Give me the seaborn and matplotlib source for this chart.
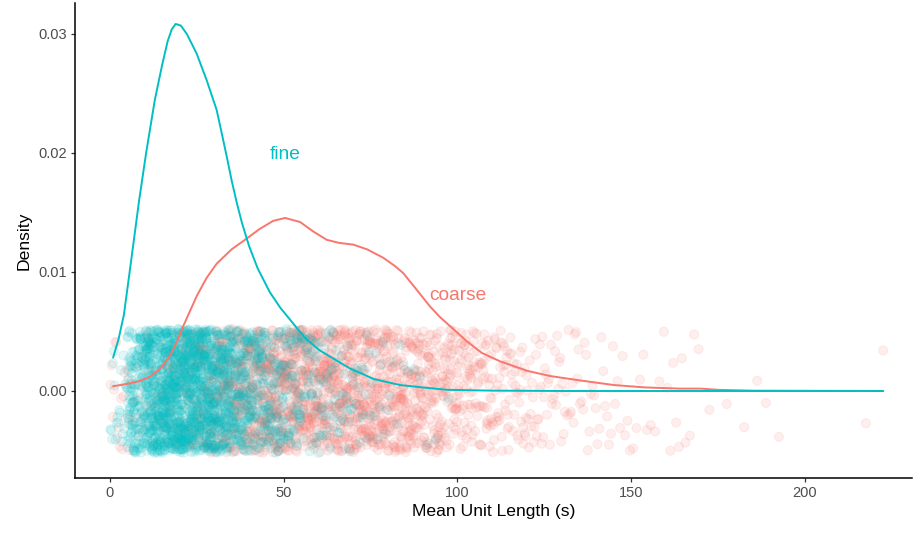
import numpy as np
import pandas as pd
import matplotlib
matplotlib.use('Agg')
import matplotlib.pyplot as plt
import seaborn as sns

# density curves (x in seconds, y density)
fine_x = [0.9, 2.5, 4.0, 6.2, 8.4, 10.4, 12.9, 14.9, 16.6, 17.8, 18.9, 20.4,
          22.1, 24.9, 27.8, 30.7, 32.2, 33.6, 35.0, 36.5, 38.0, 40.0, 42.5,
          46.0, 49.0, 51.8, 56.0, 60.4, 65.0, 69.0, 76.0, 83.5, 90.0, 97.0,
          110.0, 130.0, 222.5]
fine_d = [0.0028, 0.0044, 0.0064, 0.0112, 0.01605, 0.0200, 0.02445, 0.02725,
          0.0294, 0.0304, 0.03084, 0.0307, 0.0300, 0.02838, 0.02613, 0.02361,
          0.0216, 0.0197, 0.0177, 0.0158, 0.0141, 0.0122, 0.0103, 0.0083,
          0.0070, 0.0060, 0.0045, 0.0034, 0.0026, 0.0019, 0.0010, 0.0005,
          0.0003, 0.0001, 0.00003, 0.0, 0.0]

coarse_x = [0.9, 5.0, 8.0, 11.5, 14.5, 17.3, 19.2, 21.0, 23.0, 25.0, 27.8,
            30.7, 35.0, 39.3, 43.0, 47.0, 50.4, 54.7, 58.5, 62.4, 66.0, 70.0,
            74.0, 78.6, 82.0, 84.4, 88.0, 92.1, 95.0, 98.8, 102.6, 107.0,
            112.2, 120.0, 126.6, 135.0, 145.0, 154.0, 164.0, 170.0, 175.0,
            185.0, 222.5]
coarse_d = [0.0004, 0.0006, 0.0008, 0.0012, 0.0019, 0.0030, 0.0041, 0.0054,
            0.0067, 0.0080, 0.0095, 0.0107, 0.0119, 0.0128, 0.0136, 0.0143,
            0.01454, 0.0142, 0.0134, 0.0127, 0.01244, 0.0123, 0.0119, 0.0112,
            0.0105, 0.0099, 0.0086, 0.0071, 0.0062, 0.0052, 0.0042, 0.0032,
            0.0025, 0.0017, 0.00126, 0.0009, 0.0005, 0.0003, 0.0002, 0.0002,
            0.0001, 0.00003, 0.0]

# number of points per 5 s bin (bins start at 0, 5, ..., 220)
bin_starts = list(range(0, 225, 5))
fine_counts = [20, 140, 243, 303, 300, 265, 210, 145, 105, 78, 58, 40, 30, 21,
               15, 9, 5, 3, 2, 1] + [0] * 25
coarse_counts = [15, 12, 20, 35, 62, 93, 113, 125, 134, 142, 144, 137, 127, 124,
                 120, 113, 103, 95, 80, 68, 56, 45, 36, 28, 22, 17, 14, 11, 9,
                 7, 5, 4, 6, 4, 1, 1, 1, 2, 1, 0, 0, 0, 0, 1, 1]

colors = {'coarse': '#F8766D', 'fine': '#00BFC4'}


def expand(counts, group):
    xs = []
    for start, n in zip(bin_starts, counts):
        if n > 0:
            xs.extend(start + 5 * (np.arange(n) + 0.5) / n)
    return pd.DataFrame({'length': xs, 'zero': 0.0, 'group': group})


pts = pd.concat([expand(coarse_counts, 'coarse'), expand(fine_counts, 'fine')],
                ignore_index=True)

np.random.seed(3)
sns.set_style('white')
plt.rcParams['font.family'] = ['Liberation Sans', 'DejaVu Sans']

fig = plt.figure(figsize=(9.13, 5.34), dpi=100)
ax = fig.add_axes([75 / 913, 56 / 534, 837 / 913, 475 / 534])

sns.stripplot(data=pts, x='length', y='zero', hue='group', palette=colors,
              orient='h', native_scale=True, jitter=0.0052, size=6.5,
              alpha=0.11, linewidth=0, legend=False, ax=ax, zorder=1)
for coll in ax.collections:
    coll.set_edgecolor(coll.get_facecolor())
    coll.set_linewidth(0.8)

sns.lineplot(x=coarse_x, y=coarse_d, color=colors['coarse'], lw=1.4,
             estimator=None, ax=ax, zorder=3)
sns.lineplot(x=fine_x, y=fine_d, color=colors['fine'], lw=1.4,
             estimator=None, ax=ax, zorder=3)

ax.text(50.4, 0.0199, 'fine', color=colors['fine'], fontsize=13.8,
        ha='center', va='center')
ax.text(100, 0.0080, 'coarse', color=colors['coarse'], fontsize=13.8,
        ha='center', va='center')

ax.set_xlim(-10.07, 230.8)
ax.set_ylim(-0.00731, 0.0326)
ax.set_xticks([0, 50, 100, 150, 200])
ax.set_yticks([0.0, 0.01, 0.02, 0.03])
ax.set_yticklabels(['0.00', '0.01', '0.02', '0.03'])
for side in ['top', 'right']:
    ax.spines[side].set_visible(False)
for side in ['left', 'bottom']:
    ax.spines[side].set_color('black')
    ax.spines[side].set_linewidth(1.1)
ax.tick_params(length=3, width=0.9, color='#333333', labelcolor='#4D4D4D',
               labelsize=10.5, pad=2.5, bottom=True, left=True)
ax.set_xlabel('Mean Unit Length (s)', fontsize=12.6, color='black', labelpad=3)
ax.set_ylabel('Density', fontsize=12.6, color='black', labelpad=5)

fig.savefig('out.png', dpi=100)
